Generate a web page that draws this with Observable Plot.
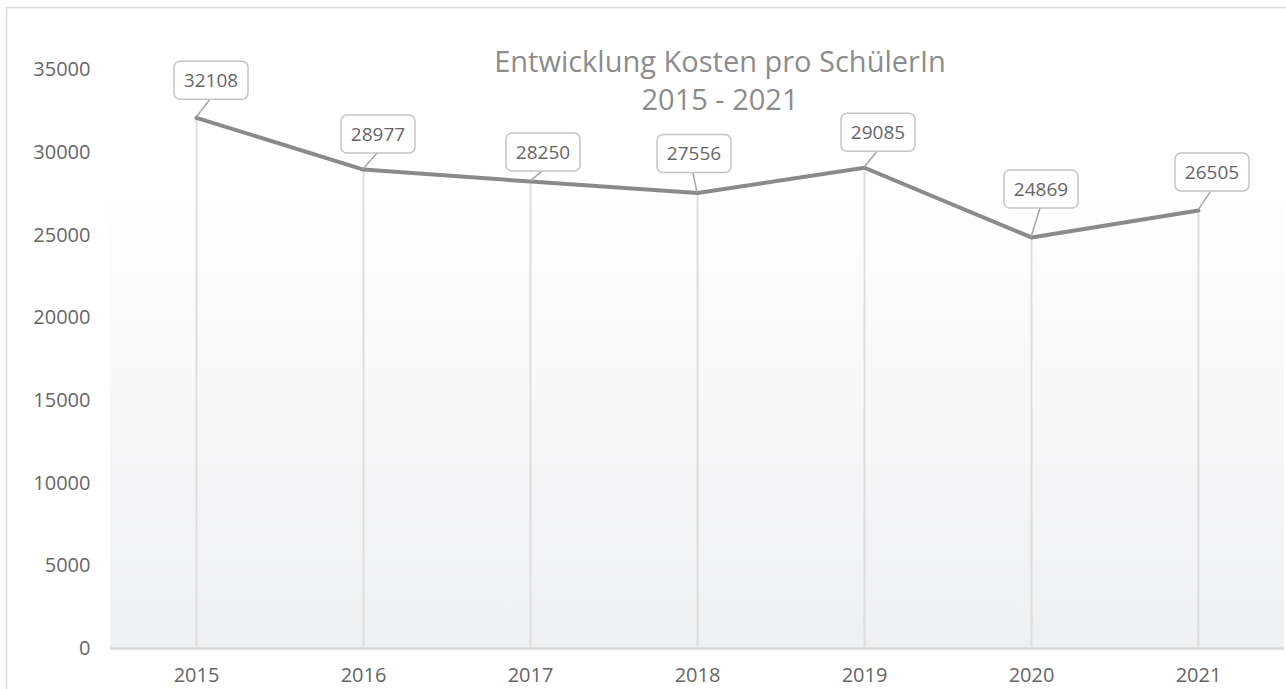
<!DOCTYPE html>
<html>
<head>
<meta charset="utf-8">
<script src="https://cdn.jsdelivr.net/npm/d3@7"></script>
<script src="https://cdn.jsdelivr.net/npm/@observablehq/plot@0.6"></script>
<style>
  html, body { margin: 0; padding: 0; background: #ffffff; }
  #chart { width: 1286px; height: 689px; overflow: hidden; }
</style>
</head>
<body>
<div id="chart"></div>
<script>
const years = ["2015", "2016", "2017", "2018", "2019", "2020", "2021"];
const costs = [32108, 28977, 28250, 27556, 29085, 24869, 26505];
const yTicks = [0, 5000, 10000, 15000, 20000, 25000, 30000, 35000];
const titleLines = ["Entwicklung Kosten pro SchülerIn", "2015 - 2021"];
// label placement offsets (px) relative to each point, as in the original "best fit"
const labelDx = [15, 15, 13, -3, 14, 10, 14];
const labelDy = [-37, -35, -29, -39, -35, -48, -38];
const shadeTop = 27100;

const data = years.map((y, i) => ({year: y, value: costs[i]}));

const chart = Plot.plot({
  width: 1286,
  height: 689,
  marginTop: 69.5,
  marginBottom: 41,
  marginLeft: 110,
  marginRight: 2,
  style: {fontFamily: "'Open Sans', sans-serif", fontSize: "20px", color: "#666666", background: "transparent"},
  x: {type: "point", domain: years, padding: 0.5, label: null},
  y: {domain: [0, 35000], label: null},
  marks: [
    Plot.axisY({ticks: yTicks, tickSize: 0, tickPadding: 20, tickFormat: d => String(d), fontSize: 20, fill: "#666666"}),
    Plot.axisX({tickSize: 0, tickPadding: 19, fontSize: 20, fill: "#666666"}),
    Plot.ruleY([0], {stroke: "#d9d9d9", strokeWidth: 2.5}),
    Plot.ruleX(data, {x: "year", y1: 0, y2: "value", stroke: "#dedede", strokeWidth: 2}),
    Plot.line(data, {x: "year", y: "value", stroke: "#8a8a8a", strokeWidth: 4, strokeLinejoin: "round"})
  ]
});

document.getElementById("chart").appendChild(chart);

const svg = d3.select(chart);
const xs = chart.scale("x");
const ys = chart.scale("y");

// gradient background of the plot area
const defs = svg.insert("defs", ":first-child");
const grad = defs.append("linearGradient").attr("id", "bgGrad").attr("x1", 0).attr("y1", 0).attr("x2", 0).attr("y2", 1);
grad.append("stop").attr("offset", "0%").attr("stop-color", "#fefefe");
grad.append("stop").attr("offset", "100%").attr("stop-color", "#eff0f2");

const bg = svg.insert("g", "defs + *");
bg.append("rect")
  .attr("x", 6.5).attr("y", 7.5).attr("width", 1300).attr("height", 700)
  .attr("fill", "#ffffff").attr("stroke", "#d9d9d9").attr("stroke-width", 1.5);
bg.append("rect")
  .attr("x", 110).attr("y", ys.apply(shadeTop))
  .attr("width", 1284 - 110).attr("height", ys.apply(0) - ys.apply(shadeTop))
  .attr("fill", "url(#bgGrad)");

// title
const title = svg.append("g").attr("font-family", "'Open Sans', sans-serif").attr("fill", "#8c8c8c").attr("text-anchor", "middle");
titleLines.forEach((t, i) => {
  title.append("text").attr("x", 720).attr("y", 62 + i * 38).attr("dy", "0.35em")
    .attr("font-size", 29).text(t);
});

// data labels
const labels = svg.append("g").attr("font-family", "'Open Sans', sans-serif");
data.forEach((d, i) => {
  const px = xs.apply(d.year);
  const py = ys.apply(d.value);
  const cx = px + labelDx[i];
  const cy = py + labelDy[i];
  const w = 74, h = 38;
  labels.append("line")
    .attr("x1", px).attr("y1", py).attr("x2", cx - 1).attr("y2", cy + h / 2)
    .attr("stroke", "#a6a6a6").attr("stroke-width", 1.5);
  labels.append("rect")
    .attr("x", cx - w / 2).attr("y", cy - h / 2).attr("width", w).attr("height", h)
    .attr("rx", 6).attr("ry", 6)
    .attr("fill", "#ffffff").attr("stroke", "#c4c4c4").attr("stroke-width", 1.5);
  labels.append("text")
    .attr("x", cx).attr("y", cy).attr("dy", "0.35em")
    .attr("text-anchor", "middle").attr("font-size", 19).attr("fill", "#666666")
    .text(String(d.value));
});
</script>
</body>
</html>
